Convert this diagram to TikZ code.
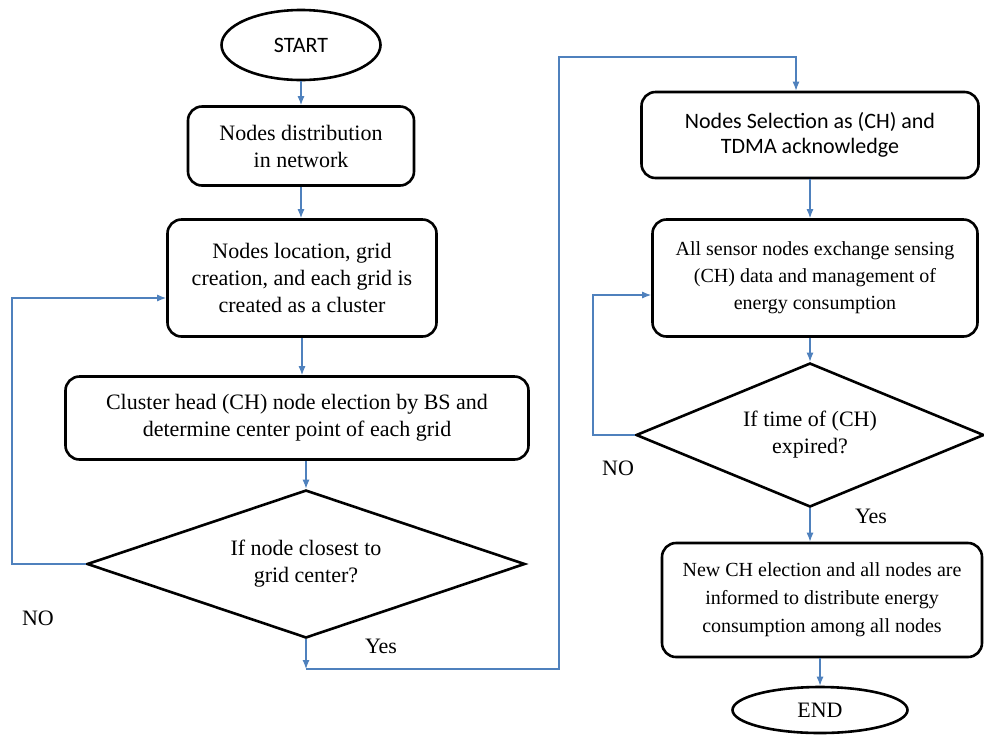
\documentclass[tikz,border=0pt]{standalone}
\usepackage{fontspec}
\setmainfont{Liberation Serif}
\newfontfamily\calfont{Carlito}
\usetikzlibrary{arrows.meta, shapes.geometric}
\definecolor{linkblue}{RGB}{79,129,189}

\begin{document}
\begin{tikzpicture}[
        x=1pt, y=-1pt,
        every node/.style={font=\fontsize{22}{27}\selectfont, align=center, inner sep=0pt},
        box/.style={draw, rounded corners=14pt, line width=2.6pt},
        decision/.style={draw, diamond, line width=2.6pt},
        term/.style={draw, ellipse, line width=2.6pt},
        arr/.style={linkblue, line width=1.2pt, -{Latex[length=9pt,width=7pt]}}
    ]
    \useasboundingbox (0,0) rectangle (984,740);

    % left column
    \node [term, minimum width=159pt, minimum height=70pt, font=\calfont\fontsize{22}{25}\selectfont] (start) at (301,45) {START};
    \node [box, minimum width=226pt, minimum height=79pt] (dist) at (301,146) {Nodes distribution\\in network};
    \node [box, minimum width=269pt, minimum height=117pt] (loc) at (302,278) {Nodes location, grid\\creation, and each grid is\\created as a cluster};
    \node [box, minimum width=463pt, minimum height=83pt] (elect) at (297,418) {Cluster head (CH) node election by BS and\\determine center point of each grid};
    \node [decision, aspect=2.96, minimum width=438pt, minimum height=148pt] (close) at (306,564) {If node closest to\\grid center?};

    % right column
    \node [box, minimum width=337pt, minimum height=86pt, font=\calfont\fontsize{22}{25}\selectfont] (sel) at (810,135) {Nodes Selection as (CH) and\\TDMA acknowledge};
    \node [box, minimum width=325pt, minimum height=117pt, font=\fontsize{20}{27}\selectfont] (exch) at (815,278) {All sensor nodes exchange sensing\\(CH) data and management of\\energy consumption};
    \node [decision, aspect=2.4, minimum width=348pt, minimum height=144pt] (expire) at (810,435) {If time of (CH)\\expired?};
    \node [box, minimum width=320pt, minimum height=114pt, font=\fontsize{20}{28}\selectfont] (newch) at (822,600) {New CH election and all nodes are\\informed to distribute energy\\consumption among all nodes};
    \node [term, minimum width=175pt, minimum height=46pt] (end) at (820,710) {END};

    % labels
    \node (no1) at (38,618) {NO};
    \node (yes1) at (381,646) {Yes};
    \node (no2) at (618,468) {NO};
    \node (yes2) at (871,516) {Yes};

    % straight arrows
    \draw[arr] (start.south) -- (start.south |- dist.north);
    \draw[arr] (dist.south) -- (dist.south |- loc.north);
    \draw[arr] (loc.south) -- (loc.south |- elect.north);
    \draw[arr] (close.north |- elect.south) -- (close.north);
    \draw[arr] (sel.south) -- (sel.south |- exch.north);
    \draw[arr] (expire.north |- exch.south) -- (expire.north);
    \draw[arr] (expire.south) -- (expire.south |- newch.north);
    \draw[arr] (end.north |- newch.south) -- (end.north);

    % loops back on NO
    \coordinate (noleft) at (12,298);
    \coordinate (noright) at (593,295);
    \draw[arr] (close.west) -| (noleft) -- (noleft -| loc.west);
    \draw[arr] (expire.west) -| (noright) -- (noright -| exch.west);

    % Yes goes over to the right column
    \coordinate (yesbend) at (306,669);
    \coordinate (topbend) at (559,57);
    \draw[arr] (close.south) -- (yesbend);
    \draw[arr] (yesbend) -| (topbend) -| ([xshift=-14pt]sel.north);
\end{tikzpicture}
\end{document}
